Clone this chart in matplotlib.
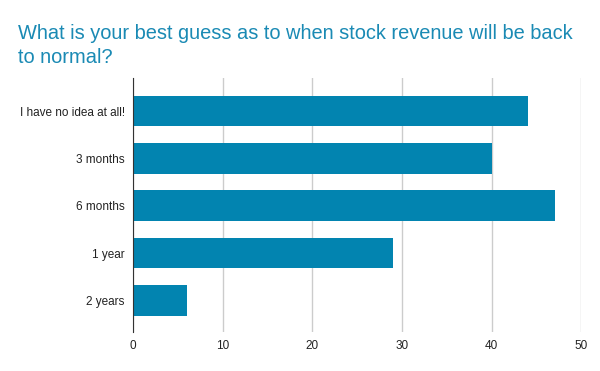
import matplotlib.pyplot as plt

plt.rcParams['font.family'] = ['Liberation Sans', 'DejaVu Sans']

categories = ['I have no idea at all!', '3 months', '6 months', '1 year', '2 years']
counts = [44, 40, 47, 29, 6]
xticks = [0, 10, 20, 30, 40, 50]

bar_color = '#0284b0'
title_color = '#1a8ab4'

fig = plt.figure(figsize=(6, 3.71), dpi=100)
ax = fig.add_axes([0.222, 0.106, 0.747, 0.684])

ypos = list(range(len(categories)))
ax.barh(ypos, counts, height=0.65, color=bar_color, zorder=3)

ax.set_xlim(0, 50)
ax.set_ylim(4.66, -0.70)
ax.set_xticks(xticks)
ax.set_xticklabels([str(t) for t in xticks], fontsize=8.5, color='#222222')
ax.set_yticks(ypos)
ax.set_yticklabels(categories, fontsize=8.5, color='#222222')
ax.tick_params(length=0, pad=6)
ax.grid(axis='x', color='#cccccc', linewidth=1, zorder=0)

for s in ['top', 'right', 'bottom']:
    ax.spines[s].set_visible(False)
ax.spines['left'].set_color('#333333')
ax.spines['left'].set_zorder(4)

fig.text(0.03, 0.935, 'What is your best guess as to when stock revenue will be back\nto normal?',
         fontsize=14.4, color=title_color, ha='left', va='top', linespacing=1.3)

fig.savefig('out.png', dpi=100)
